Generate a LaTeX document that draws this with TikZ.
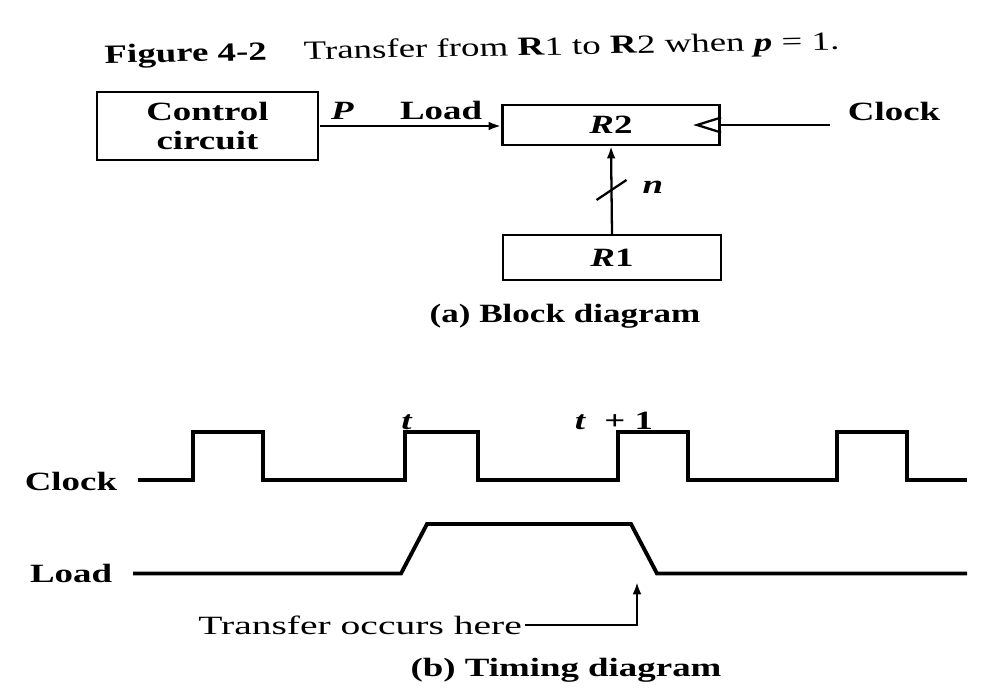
\documentclass[tikz,border=0pt]{standalone}
\usepackage{fontspec}
\setmainfont{Liberation Serif}
\usetikzlibrary{arrows.meta}

\begin{document}
\begin{tikzpicture}[
    >={Latex[length=7pt,width=5pt]},
    txt/.style={font=\fontsize{15}{17}\selectfont, xscale=1.4, inner sep=1pt},
    rtxt/.style={txt, xscale=1.5/1.4},
    box/.style={txt, draw, line width=1.3pt, inner sep=2pt, minimum height=0.8cm, align=center},
    wave/.style={line width=2.2pt},
    wire/.style={line width=1.3pt}
]
\useasboundingbox (0,0) rectangle (20.04,-13.86);

% --- PARAMETER ---
\def\clklo{-9.6}   % Clock low
\def\clkhi{-8.64}  % Clock high
\def\ldlo{-11.47}  % Load low
\def\ldhi{-10.48}  % Load high

% --- TITEL ---
\node[txt, rotate=1.5] (title) at (9.44,-1.0)
    {\textbf{Figure 4-2}\quad Transfer from \textbf{R}1 to \textbf{R}2 when \textbf{\textit{p}} = 1.};

% --- (a) BLOCKDIAGRAMM ---
\node[box, minimum width=3.16cm, minimum height=1.36cm] (ctrl) at (4.15,-2.52) {\textbf{Control}\\\textbf{circuit}};
\node[box, minimum width=3.1cm] (r2) at (12.22,-2.5) {\textbf{\textit{R}2}};
\node[box, minimum width=3.12cm, minimum height=0.9cm] (r1) at (12.24,-5.15) {\textbf{\textit{R}1}};

\draw[wire, ->] (ctrl.east) -- (ctrl.east -| r2.west)
    node[txt, above right, pos=0, xshift=3pt, yshift=2pt] (p) {\textbf{\textit{P}}}
    node[txt, above left, pos=1, xshift=-6pt, yshift=2pt] (load) {\textbf{Load}};

% Takteingang (Dreieck)
\draw[wire] ([yshift=0.15cm]r2.east) -- ++(-0.48,-0.15) -- ([yshift=-0.15cm]r2.east);
\node[txt, anchor=west] (clkin) at (16.9,-2.22) {\textbf{Clock}};
\draw[wire] (r2.east) -- ([xshift=-0.3cm]r2.east -| clkin.west);

% n-Bit Bus R1 -> R2
\draw[wire, ->] (r1.north) -- (r2.south) coordinate[midway] (nmid);
\draw[wire] ([shift={(-0.3,-0.2)}]nmid) -- ([shift={(0.3,0.2)}]nmid);
\node[txt] (n) at (13.06,-3.74) {\textbf{\textit{n}}};

\node[txt, xscale=0.95] (capa) at (11.3,-6.32) {\textbf{(a) Block diagram}};

% --- (b) TIMING ---
\node[txt, anchor=east] (clock) at (2.4,-9.62) {\textbf{Clock}};
\draw[wave] (2.76,\clklo) -- (3.86,\clklo) -- (3.86,\clkhi) -- (5.26,\clkhi) -- (5.26,\clklo)
    -- (8.1,\clklo) -- (8.1,\clkhi) -- (9.56,\clkhi) -- (9.56,\clklo)
    -- (12.36,\clklo) -- (12.36,\clkhi) -- (13.76,\clkhi) -- (13.76,\clklo)
    -- (16.74,\clklo) -- (16.74,\clkhi) -- (18.14,\clkhi) -- (18.14,\clklo) -- (19.34,\clklo);
\node[txt, above] (t) at (8.14,\clkhi) {\textbf{\textit{t}}};
\node[txt, above] (t1) at (12.28,\clkhi) {\textbf{\textit{t}\ \ + 1}};

\node[txt, anchor=east] (load2) at (2.3,\ldlo) {\textbf{Load}};
\draw[wave] (2.66,\ldlo) -- (8.02,\ldlo) -- (8.54,\ldhi) -- (12.62,\ldhi) -- (13.14,\ldlo) -- (19.34,\ldlo);

\node[rtxt, anchor=east] (xfer) at (10.5,-12.5) {Transfer occurs here};
\coordinate (xtip) at (12.74,-11.64);
\draw[wire, ->] (xfer.east) -| (xtip);

\node[txt] (capb) at (11.32,-13.4) {\textbf{(b) Timing diagram}};
\end{tikzpicture}
\end{document}
